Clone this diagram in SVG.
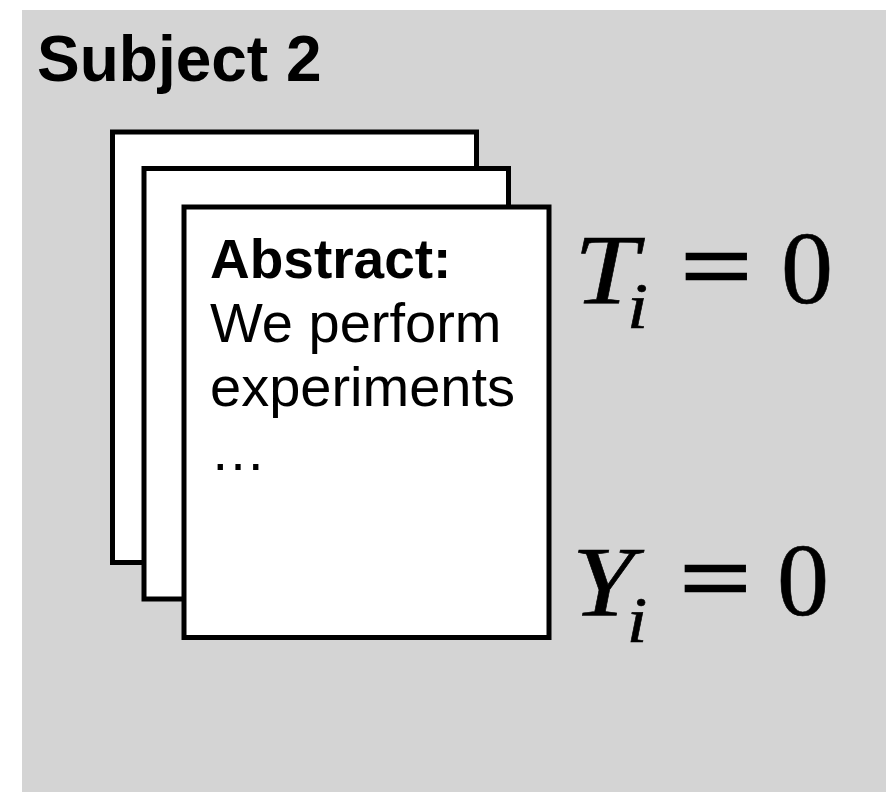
<svg xmlns="http://www.w3.org/2000/svg" width="886" height="792" viewBox="0 0 886 792">
<style>
.page{fill:#ffffff;stroke:#000000;stroke-width:5}
.sans{font-family:"Liberation Sans",Arial,sans-serif;fill:#000}
.math{font-family:"Liberation Serif","Times New Roman",serif;fill:#000;stroke:#000;stroke-width:0.6}
</style>
<rect x="0" y="0" width="886" height="792" fill="#ffffff"/>
<rect id="panel" x="22" y="10" width="864" height="782" fill="#d4d4d4"/>
<text id="title" class="sans" x="37" y="81" font-size="64" font-weight="bold">Subject 2</text>
<g id="page1"><rect class="page" x="112.5" y="132" width="364" height="430.5"/></g>
<g id="page2"><rect class="page" x="144" y="168.5" width="364.5" height="430.5"/></g>
<g id="page3"><rect class="page" x="184" y="207" width="365" height="430.5"/>
<text class="sans"><tspan x="210" y="278" font-size="55" font-weight="bold">Abstract:</tspan><tspan x="210" y="342" font-size="56">We perform</tspan><tspan x="210" y="406" font-size="56">experiments</tspan><tspan x="210" y="470" font-size="56">…</tspan></text>
</g>
<g id="eqT" class="math">
<text font-size="100" font-style="italic" transform="translate(574,303) scale(1.15,1)"><tspan x="0" y="0">T</tspan><tspan x="46" y="25" font-size="66">i</tspan></text>
<text x="0" y="0" font-size="100" transform="translate(681,300) scale(1.25,1)" stroke-width="2.5">=</text>
<text x="781" y="303" font-size="104">0</text>
</g>
<g id="eqY" class="math">
<text font-size="100" font-style="italic" transform="translate(572,615) scale(1.12,1)"><tspan x="0" y="0">Y</tspan><tspan x="49" y="27" font-size="66">i</tspan></text>
<text x="0" y="0" font-size="100" transform="translate(680,612) scale(1.25,1)" stroke-width="2.5">=</text>
<text x="777" y="615" font-size="104">0</text>
</g>
<g id="connectors"/>
</svg>
